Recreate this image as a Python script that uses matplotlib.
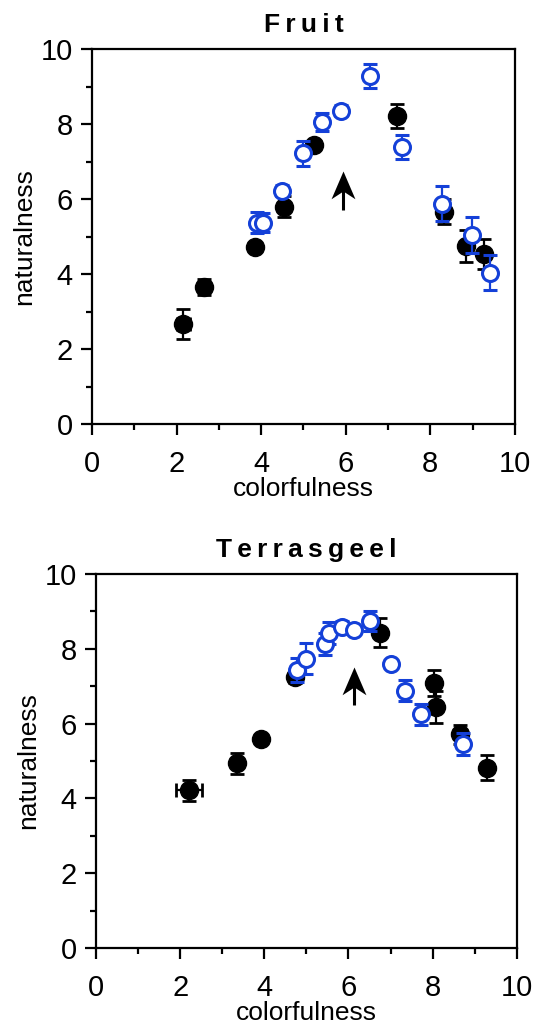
import matplotlib
matplotlib.use("Agg")
import matplotlib.pyplot as plt
from matplotlib.ticker import MultipleLocator
from matplotlib.path import Path

plt.rcParams['font.family'] = ['Liberation Sans', 'DejaVu Sans']

# Fruit - black (filled)
fruit_k_x = [2.16, 2.65, 3.85, 4.55, 5.26, 7.20, 8.32, 8.84, 9.27]
fruit_k_y = [2.67, 3.66, 4.73, 5.80, 7.44, 8.21, 5.66, 4.75, 4.53]
fruit_k_yerr = [0.39, 0.22, 0.10, 0.27, 0.12, 0.32, 0.33, 0.43, 0.40]
fruit_k_xerr = [0.15, 0.05, 0.05, 0.05, 0.05, 0.05, 0.05, 0.05, 0.05]
# Fruit - blue (open)
fruit_b_x = [3.89, 4.05, 4.50, 4.99, 5.44, 5.88, 6.57, 7.34, 8.28, 8.98, 9.41]
fruit_b_y = [5.37, 5.37, 6.22, 7.22, 8.06, 8.36, 9.28, 7.38, 5.88, 5.04, 4.04]
fruit_b_yerr = [0.28, 0.25, 0.15, 0.33, 0.24, 0.15, 0.32, 0.32, 0.46, 0.47, 0.47]
fruit_arrow = (5.94, 5.71, 6.75)   # x, tail y, tip y

# Terrasgeel - black (filled)
terra_k_x = [2.21, 3.34, 3.91, 4.74, 6.76, 8.03, 8.09, 8.65, 9.30]
terra_k_y = [4.22, 4.94, 5.59, 7.24, 8.43, 7.09, 6.45, 5.71, 4.82]
terra_k_yerr = [0.28, 0.28, 0.10, 0.15, 0.39, 0.34, 0.42, 0.25, 0.33]
terra_k_xerr = [0.30, 0.05, 0.05, 0.05, 0.05, 0.05, 0.05, 0.05, 0.05]
# Terrasgeel - blue (open)
terra_b_x = [4.78, 4.99, 5.44, 5.54, 5.85, 6.13, 6.51, 7.01, 7.34, 7.72, 8.72]
terra_b_y = [7.43, 7.74, 8.13, 8.43, 8.59, 8.50, 8.74, 7.59, 6.88, 6.25, 5.45]
terra_b_yerr = [0.32, 0.41, 0.30, 0.30, 0.15, 0.10, 0.27, 0.10, 0.28, 0.28, 0.30]
terra_arrow = (6.13, 6.50, 7.52)

blue = '#1440d8'

# arrow head marker, tip at the origin, concave back
head = Path([(0, 0), (-0.43, -1), (0, -0.72), (0.43, -1), (0, 0)],
            [Path.MOVETO, Path.LINETO, Path.LINETO, Path.LINETO, Path.CLOSEPOLY])

fig = plt.figure(figsize=(5.34, 10.36), dpi=100)
ax1 = fig.add_axes([0.1723, 0.5907, 0.792, 0.362])
ax2 = fig.add_axes([0.1798, 0.0849, 0.788, 0.361])


def panel(ax, title, kx, ky, kxe, kye, bx, by, bye, arrow):
    ax.errorbar(kx, ky, yerr=kye, xerr=kxe, fmt='o', color='black', ms=13,
                elinewidth=1.6, capsize=5, capthick=2, zorder=2)
    ax.errorbar(bx, by, yerr=bye, fmt='o', color=blue, mfc='white', mec=blue,
                mew=2.2, ms=11.5, elinewidth=1.6, capsize=5, capthick=2, zorder=3)
    ax.plot([arrow[0], arrow[0]], [arrow[1], arrow[2] - 0.3], color='black',
            lw=2.2, solid_capstyle='butt', zorder=4)
    ax.plot([arrow[0]], [arrow[2]], marker=head, ms=40, color='black',
            mew=0, zorder=4)
    ax.set_xlim(0, 10)
    ax.set_ylim(0, 10)
    ax.xaxis.set_major_locator(MultipleLocator(2))
    ax.xaxis.set_minor_locator(MultipleLocator(1))
    ax.yaxis.set_major_locator(MultipleLocator(2))
    ax.yaxis.set_minor_locator(MultipleLocator(1))
    ax.tick_params(which='major', direction='out', length=8, width=1.6,
                   labelsize=21)
    ax.tick_params(axis='x', which='major', pad=11)
    ax.tick_params(axis='y', which='major', pad=6)
    ax.tick_params(which='minor', direction='out', length=4.5, width=1.6)
    for s in ax.spines.values():
        s.set_linewidth(1.6)
    ax.set_xlabel('colorfulness', fontsize=19, labelpad=-1)
    ax.set_ylabel('naturalness', fontsize=19, labelpad=3)
    ax.set_title('\u2009'.join(title), fontsize=19, fontweight='bold', pad=12)


panel(ax1, 'Fruit', fruit_k_x, fruit_k_y, fruit_k_xerr, fruit_k_yerr,
      fruit_b_x, fruit_b_y, fruit_b_yerr, fruit_arrow)
panel(ax2, 'Terrasgeel', terra_k_x, terra_k_y, terra_k_xerr, terra_k_yerr,
      terra_b_x, terra_b_y, terra_b_yerr, terra_arrow)

fig.savefig('out.png', dpi=100)
